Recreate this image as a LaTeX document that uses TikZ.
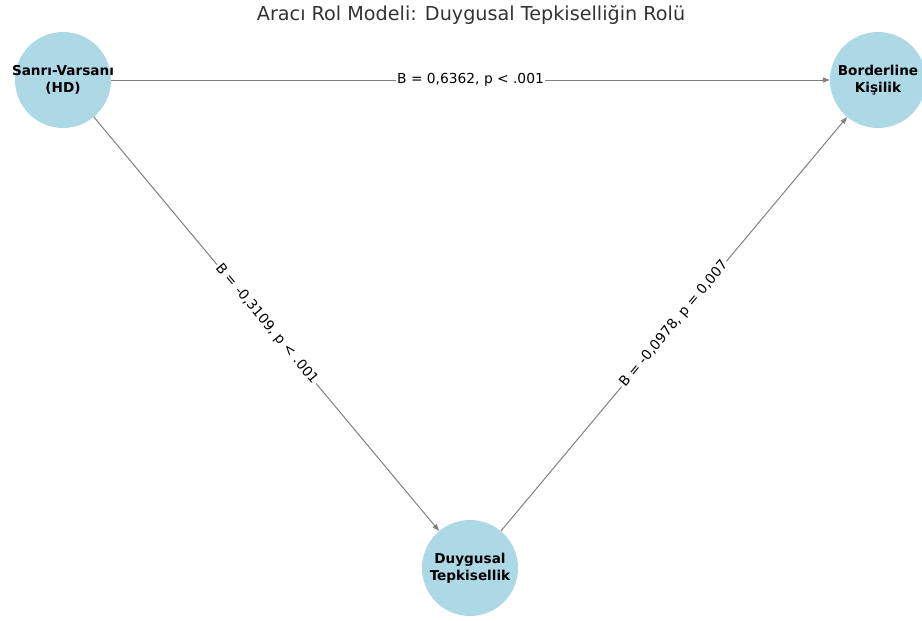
\documentclass[tikz,border=0pt]{standalone}
\usepackage{fontspec}
\setmainfont{DejaVu Sans}
\usetikzlibrary{arrows.meta}

\definecolor{nodeblue}{RGB}{173,216,230}
\definecolor{edgegray}{RGB}{128,128,128}

\tikzset{
  var/.style={circle, fill=nodeblue, minimum size=96pt, inner sep=-20pt, align=center,
    font=\fontsize{13.6}{17}\selectfont\bfseries},
  effect/.style={draw=edgegray, line width=1pt, -{Triangle[length=7pt,width=5pt]}},
  coef/.style={fill=white, inner sep=1.5pt, sloped, font=\fontsize{13.8}{17}\selectfont}
}

\begin{document}
\begin{tikzpicture}[x=1pt,y=-1pt]
  \useasboundingbox (0,0) rectangle (922,621);

  \node[text=black!80, font=\fontsize{19.2}{23}\selectfont] (title) at (471,15) {Aracı Rol Modeli: Duygusal Tepkiselliğin Rolü}; %

  \node[var] (hd)  at (63,80)   {Sanrı-Varsanı\\(HD)}; %
  \node[var] (bpd) at (878,80)  {Borderline\\Kişilik}; %
  \node[var] (dt)  at (470,568) {Duygusal\\Tepkisellik}; %

  \draw[effect] (hd) -- node[coef] {B = 0,6362, p < .001} (bpd);
  \draw[effect] (hd) -- node[coef] {B = -0,3109, p < .001} (dt);
  \draw[effect] (dt) -- node[coef] {B = -0,0978, p = 0,007} (bpd);

\end{tikzpicture}
\end{document}
